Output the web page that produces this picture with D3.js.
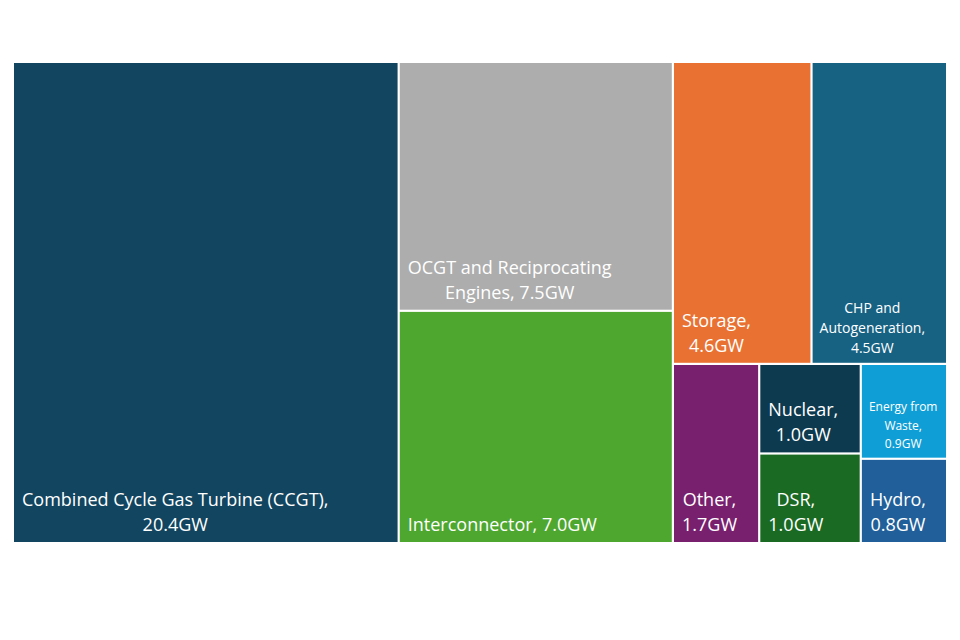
<!DOCTYPE html>
<html><head><meta charset="utf-8">
<script src="https://cdn.jsdelivr.net/npm/d3@7"></script>
<style>body{margin:0;background:#fff}</style></head>
<body><svg id="c" width="960" height="640"></svg>
<script>
const categories = ["Combined Cycle Gas Turbine (CCGT)", "OCGT and Reciprocating Engines", "Interconnector", "Storage", "CHP and Autogeneration", "Other", "Nuclear", "DSR", "Energy from Waste", "Hydro"];
const capacityGW = [20.4, 7.5, 7.0, 4.6, 4.5, 1.7, 1.0, 1.0, 0.9, 0.8];
const labelLines = [
  ["Combined Cycle Gas Turbine (CCGT),", "20.4GW"],
  ["OCGT and Reciprocating", "Engines, 7.5GW"],
  ["Interconnector, 7.0GW"],
  ["Storage,", "4.6GW"],
  ["CHP and", "Autogeneration,", "4.5GW"],
  ["Other,", "1.7GW"],
  ["Nuclear,", "1.0GW"],
  ["DSR,", "1.0GW"],
  ["Energy from", "Waste,", "0.9GW"],
  ["Hydro,", "0.8GW"]
];
const colors = ["#124560", "#adadad", "#4ea72e", "#e97132", "#176283", "#78206e", "#0e3a50", "#1b6a24", "#0f9ed5", "#215f9a"];
const labelSize = [18, 18, 18, 18, 14, 18, 18, 18, 12, 18];
// grouping of the tiles (indices into the arrays above), alternating x/y splits by depth
const layoutGroups = [[0], [1, 2], [[3, 4], [5, [6, 7], [8, 9]]]];

const svg = d3.select("#c");
const font = "'Open Sans', 'Noto Sans', sans-serif";

function build(spec) {
  if (typeof spec === "number") return { idx: spec, name: categories[spec], value: capacityGW[spec] };
  return { children: spec.map(build) };
}
const root = d3.hierarchy(build(layoutGroups)).sum(d => d.value || 0);
d3.treemap()
  .tile(d3.treemapSliceDice)
  .size([932, 479])
  .paddingInner(2.2)
  .round(false)(root);

const plot = svg.append("g").attr("transform", "translate(14,63)");
const leaves = root.leaves();
const g = plot.selectAll("g.cell").data(leaves).join("g").attr("class", "cell");
g.append("rect")
  .attr("x", d => d.x0).attr("y", d => d.y0)
  .attr("width", d => d.x1 - d.x0).attr("height", d => d.y1 - d.y0)
  .attr("fill", d => colors[d.data.idx]);

g.each(function(d) {
  const i = d.data.idx;
  const fs = labelSize[i];
  const lh = fs >= 18 ? 25 : (fs >= 14 ? 20 : 18.5);
  const lines = labelLines[i];
  const t = d3.select(this).append("text")
    .attr("font-family", font).attr("font-size", fs).attr("fill", "#ffffff");
  const spans = lines.map((s, k) => t.append("tspan").text(s));
  const widths = spans.map(s => s.node().getComputedTextLength());
  const bw = d3.max(widths);
  const left = d.x0 + (fs >= 18 ? 8 : 7);
  const cx = left + bw / 2;
  const lastBase = d.y1 - (fs >= 18 ? 11 : 9.5);
  spans.forEach((s, k) => {
    s.attr("x", cx).attr("text-anchor", "middle")
     .attr("y", lastBase - (lines.length - 1 - k) * lh);
  });
});
</script></body></html>
